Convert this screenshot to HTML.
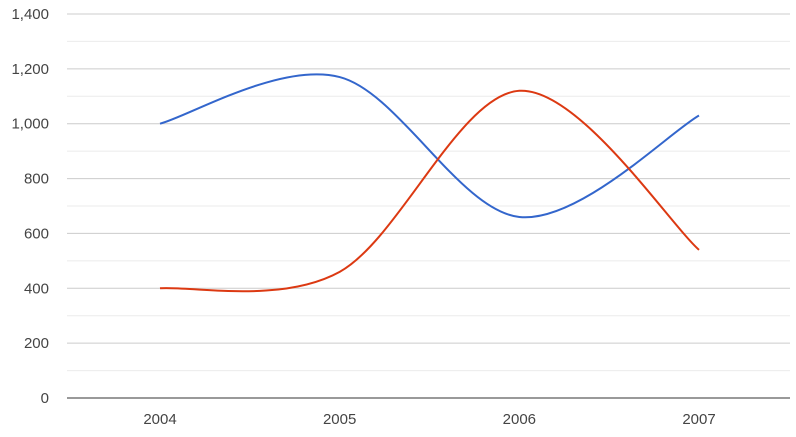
<!DOCTYPE html>
<html><head><meta charset="utf-8"><style>
body{margin:0;background:#fff;}
svg text{font-family:"Liberation Sans",Arial,sans-serif;font-size:15px;fill:#444;}
</style></head><body>
<svg id="chart" width="796" height="432">
<g id="grid"></g>
<g id="ylabels"></g>
<g id="xlabels"></g>
<g id="series"></g>
</svg>
<script>
const years = ["2004","2005","2006","2007"];
const sales = [1000,1170,660,1030];
const expenses = [400,460,1120,540];
const yTicks = [0,200,400,600,800,1000,1200,1400];
const yTickLabels = ["0","200","400","600","800","1,000","1,200","1,400"];

const svgNS="http://www.w3.org/2000/svg";
const plotL=67,plotR=790,plotT=14,plotB=398,yMax=1400;
const xFirst=160,xLast=699;
function xs(i){return xFirst+(xLast-xFirst)*i/(years.length-1);}
function ys(v){return plotB-(plotB-plotT)*v/yMax;}
function mk(tag,attrs,parent){const e=document.createElementNS(svgNS,tag);for(const k in attrs)e.setAttribute(k,attrs[k]);parent.appendChild(e);return e;}
const grid=document.getElementById('grid');
for(let v=100;v<=yMax;v+=100){
  if(v%200!==0){
    const l=mk('line',{x1:plotL,x2:plotR,y1:ys(v),y2:ys(v),stroke:'#ebebeb','stroke-width':1},grid);
    
    
  }
}
const yl=document.getElementById('ylabels');
yTicks.forEach((v,i)=>{
  if(v>0){
    const l=mk('line',{x1:plotL,x2:plotR,y1:ys(v),y2:ys(v),stroke:'#ccc','stroke-width':1},grid);
    
    
  }
  const t=mk('text',{x:49,y:ys(v)+5,'text-anchor':'end'},yl);
  t.textContent=yTickLabels[i];
  
  
});
const ax=mk('line',{x1:plotL,x2:plotR,y1:plotB,y2:plotB,stroke:'#333','stroke-width':1},grid);


const xl=document.getElementById('xlabels');
years.forEach((y,i)=>{
  const t=mk('text',{x:xs(i),y:424,'text-anchor':'middle'},xl);
  t.textContent=y;
  
  
});
function path(vals){
  const p=vals.map((v,i)=>[xs(i),ys(v)]);
  let d=`M${p[0][0]},${p[0][1]}`;
  const k=0.33;
  for(let i=0;i<p.length-1;i++){
    const a=p[i-1]||p[i],b=p[i],c=p[i+1],e=p[i+2]||p[i+1];
    const c1=[b[0]+(c[0]-a[0])*k/2,b[1]+(c[1]-a[1])*k/2];
    const c2=[c[0]-(e[0]-b[0])*k/2,c[1]-(e[1]-b[1])*k/2];
    d+=` C${c1[0]},${c1[1]} ${c2[0]},${c2[1]} ${c[0]},${c[1]}`;
  }
  return d;
}
const sg=document.getElementById('series');
const s1=mk('path',{d:path(sales),fill:'none',stroke:'#3366cc','stroke-width':2},sg);


const s2=mk('path',{d:path(expenses),fill:'none',stroke:'#dc3912','stroke-width':2},sg);


</script>
</body></html>
